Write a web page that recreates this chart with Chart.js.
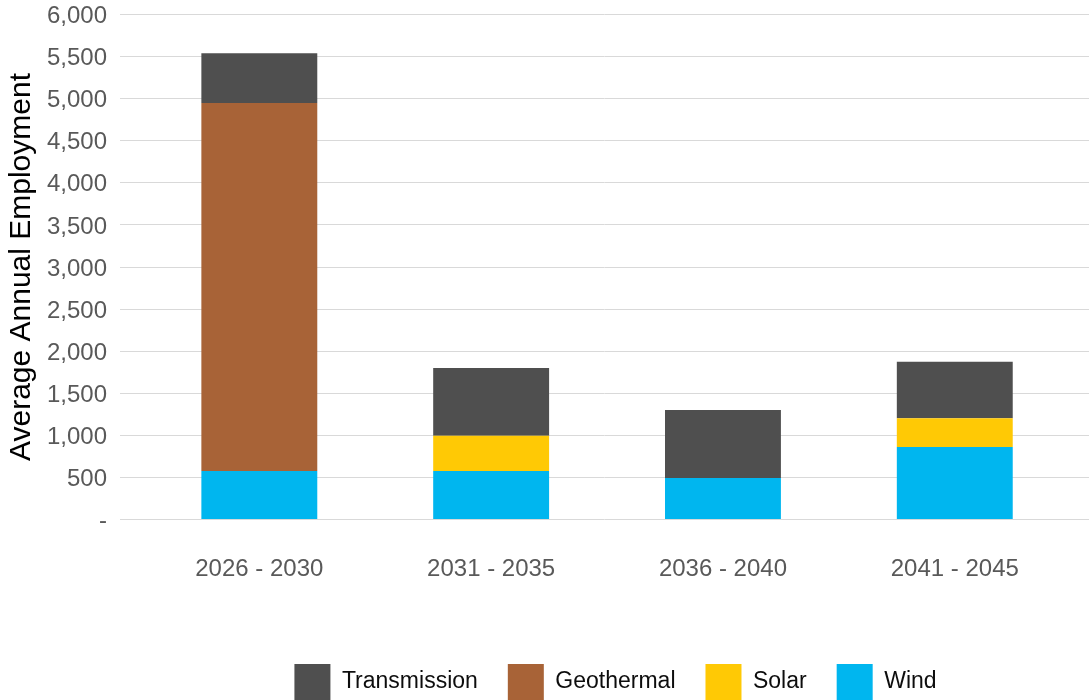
<!DOCTYPE html>
<html>
<head>
<meta charset="utf-8">
<title>Average Annual Employment</title>
<script src="https://cdn.jsdelivr.net/npm/chart.js@4.4.1/dist/chart.umd.min.js"></script>
<style>
  html, body { margin: 0; padding: 0; background: #ffffff; }
  #wrap { position: relative; width: 1089px; height: 700px; }
</style>
</head>
<body>
<div id="wrap"><canvas id="chart"></canvas></div>
<script>
// Five-year periods along the horizontal axis
const categories = ['2026 - 2030', '2031 - 2035', '2036 - 2040', '2041 - 2045'];

// Average annual jobs per technology (stacked from the bottom up)
const wind = [575, 575, 492, 862];
const solar = [0, 420, 0, 340];
const geothermal = [4375, 0, 0, 0];
const transmission = [590, 805, 808, 672];

// Vertical axis labels, one per 500 jobs
const yTickLabels = ['-', '500', '1,000', '1,500', '2,000', '2,500', '3,000',
                     '3,500', '4,000', '4,500', '5,000', '5,500', '6,000'];

const FONT = "'Liberation Sans', Arial, Helvetica, sans-serif";

const series = [
  { label: 'Wind', data: wind, color: '#00b6ef' },
  { label: 'Solar', data: solar, color: '#ffc905' },
  { label: 'Geothermal', data: geothermal, color: '#a86337' },
  { label: 'Transmission', data: transmission, color: '#4f4f4f' }
];

// Nudges the legend row a little to the right of the plot centre
const legendShift = {
  id: 'legendShift',
  afterLayout(chart) {
    const lg = chart.legend;
    if (lg) { lg.left += 11; lg.right += 11; }
  }
};

new Chart(document.getElementById('chart'), {
  type: 'bar',
  plugins: [legendShift],
  data: {
    labels: categories.map((_, i) => i),
    datasets: series.map(s => ({
      label: s.label,
      data: s.data,
      backgroundColor: s.color,
      borderWidth: 0,
      categoryPercentage: 0.5,
      barPercentage: 1
    }))
  },
  options: {
    responsive: true,
    maintainAspectRatio: false,
    animation: false,
    devicePixelRatio: 1,
    layout: { padding: { top: 14.5, right: 0, left: 0, bottom: 0 } },
    scales: {
      x: {
        type: 'linear',
        offset: false,
        stacked: true,
        min: -0.601,
        max: 3.579,
        grid: { display: false },
        border: { display: false },
        afterBuildTicks: scale => {
          scale.ticks = categories.map((_, i) => ({ value: i }));
        },
        afterFit: scale => {
          scale.height = 114.5;
          scale.paddingLeft = 0;
          scale.paddingRight = 0;
        },
        ticks: {
          padding: 27,
          color: '#595959',
          font: { family: FONT, size: 24 },
          maxRotation: 0,
          autoSkip: false,
          callback: v => categories[v] ?? ''
        }
      },
      y: {
        stacked: true,
        min: 0,
        max: 6000,
        grid: { color: '#d9d9d9', lineWidth: 1, drawTicks: false },
        border: { display: false },
        afterFit: scale => {
          scale.width = 120;
          scale.paddingTop = 0;
          scale.paddingBottom = 0;
        },
        ticks: {
          stepSize: 500,
          padding: 13,
          labelOffset: 2,
          color: '#595959',
          font: { family: FONT, size: 24 },
          callback: (v, i) => yTickLabels[i]
        },
        title: {
          display: true,
          text: 'Average Annual Employment',
          color: '#000000',
          font: { family: FONT, size: 30 },
          padding: { top: 4, bottom: 0 }
        }
      }
    },
    plugins: {
      tooltip: { enabled: false },
      legend: {
        position: 'bottom',
        fullSize: false,
        reverse: true,
        maxHeight: 66,
        labels: {
          boxWidth: 36,
          boxHeight: 36,
          padding: 30,
          color: '#0d0d0d',
          font: { family: FONT, size: 23 }
        }
      }
    }
  }
});
</script>
</body>
</html>
